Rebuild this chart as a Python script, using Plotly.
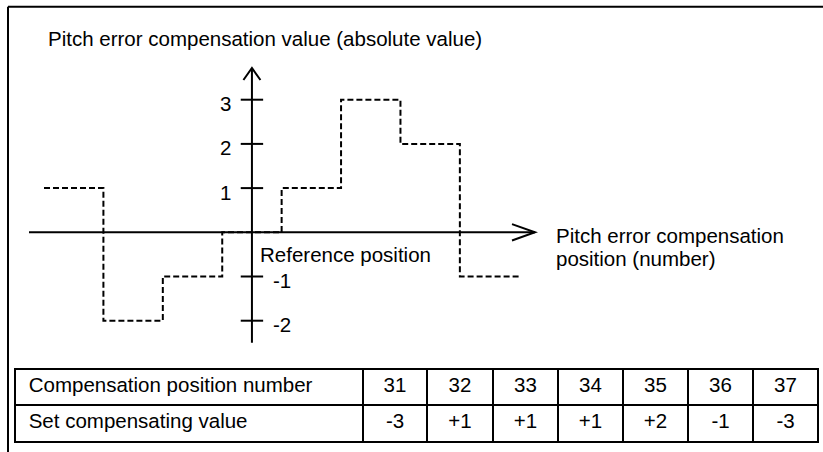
import plotly.graph_objects as go

W, H = 823, 452
FONT = "Liberation Sans, Arial, sans-serif"

# step levels of the compensation value, one per pitch interval
levels = [1, -2, -1, 0, 1, 3, 2, -1]
y_ticks = [3, 2, 1, -1, -2]

# table
row_labels = ["Compensation position number", "Set compensating value"]
positions = ["31", "32", "33", "34", "35", "36", "37"]
set_values = ["-3", "+1", "+1", "+1", "+2", "-1", "-3"]

y_title = "Pitch error compensation value (absolute value)"
x_title = ["Pitch error compensation", "position (number)"]
origin_label = "Reference position"

# pixel scale of the sketch: one pitch interval / one unit of value
kx, ky = 59.41, 44.2
x0_px, y0_px = 44.0, 232.3
xr = [-x0_px / kx, (W - x0_px) / kx]
yr = [-(H - y0_px) / ky, y0_px / ky]

axis_x = levels.index(0) + 0.5            # vertical axis sits in the middle of the zero step
x_lo, x_hi = -15 / kx, (535 - x0_px) / kx
y_lo, y_hi = -(342.7 - y0_px) / ky, (y0_px - 68) / ky

fig = go.Figure()

# dashed step curve
fig.add_trace(go.Scatter(
    x=list(range(len(levels) + 1)), y=levels + [levels[-1]],
    mode="lines", line=dict(color="black", width=2, dash="6px,3px", shape="hv"),
    hoverinfo="skip", showlegend=False))

# tick marks on the value axis
fig.add_trace(go.Scatter(
    x=[axis_x] * len(y_ticks), y=y_ticks, mode="markers",
    marker=dict(symbol="line-ew", size=16, line=dict(color="black", width=2)),
    hoverinfo="skip", showlegend=False))

line = dict(color="black", width=2)
fig.add_shape(type="line", x0=x_lo, x1=x_hi, y0=0, y1=0, line=line, layer="below")
fig.add_shape(type="line", x0=axis_x, x1=axis_x, y0=y_lo, y1=y_hi, line=line, layer="below")
# open arrowheads
ax, ay = 8.5 / kx, 12 / ky
fig.add_shape(type="path", line=line,
              path=f"M{axis_x - ax},{y_hi - ay} L{axis_x},{y_hi} L{axis_x + ax},{y_hi - ay}")
bx, by = 23 / kx, 8.2 / ky
fig.add_shape(type="path", line=line,
              path=f"M{x_hi - bx},{by} L{x_hi},0 L{x_hi - bx},{-by}")

# outer frame (top and left edges only)
fig.add_shape(type="line", xref="paper", yref="paper", x0=8 / W, x1=1, y0=1 - 6.7 / H, y1=1 - 6.7 / H,
              line=line)
fig.add_shape(type="line", xref="paper", yref="paper", x0=8 / W, x1=8 / W, y0=0, y1=1 - 6.7 / H,
              line=line)

font = dict(family=FONT, size=20.5, color="black")
for t in y_ticks:
    fig.add_annotation(x=axis_x, y=t, text=str(t), showarrow=False, font=font,
                       xanchor="right" if t > 0 else "left", xshift=-19 if t > 0 else 19, yshift=-4)

def label(txt, px, py):
    fig.add_annotation(xref="paper", yref="paper", x=px / W, y=1 - py / H, text=txt, showarrow=False,
                       font=font, xanchor="left", yanchor="middle")

label(y_title, 46, 38.7)
label(x_title[0], 554, 235)
label(x_title[1], 554, 258.5)
label(origin_label, 258, 254.7)

# domain leaves a couple of spare pixels below so the bottom border is not clipped
fig.add_trace(go.Table(
    domain=dict(x=[15 / W, 818 / W], y=[1 - 445 / H, 1 - 369 / H]),
    columnwidth=[348, 64, 66, 65, 65, 65, 65, 65],
    header=dict(values=["\u00a0" + row_labels[0]] + positions, height=36,
                align=["left"] + ["center"] * len(positions),
                fill_color="white", line=dict(color="black", width=2), font=font),
    cells=dict(values=[["\u00a0" + row_labels[1]]] + [[v] for v in set_values], height=37,
               align=["left"] + ["center"] * len(set_values),
               fill_color="white", line=dict(color="black", width=2), font=font)))

fig.update_xaxes(range=xr, visible=False, domain=[0, 1])
fig.update_yaxes(range=yr, visible=False, domain=[0, 1])
fig.update_layout(width=W, height=H, margin=dict(l=0, r=0, t=0, b=0),
                  paper_bgcolor="white", plot_bgcolor="white", showlegend=False)

# the page body keeps its default 8px margin otherwise, pushing the figure off the window
fig.write_html("out.html", config={"displayModeBar": False},
               post_script="document.body.style.margin='0px';")
